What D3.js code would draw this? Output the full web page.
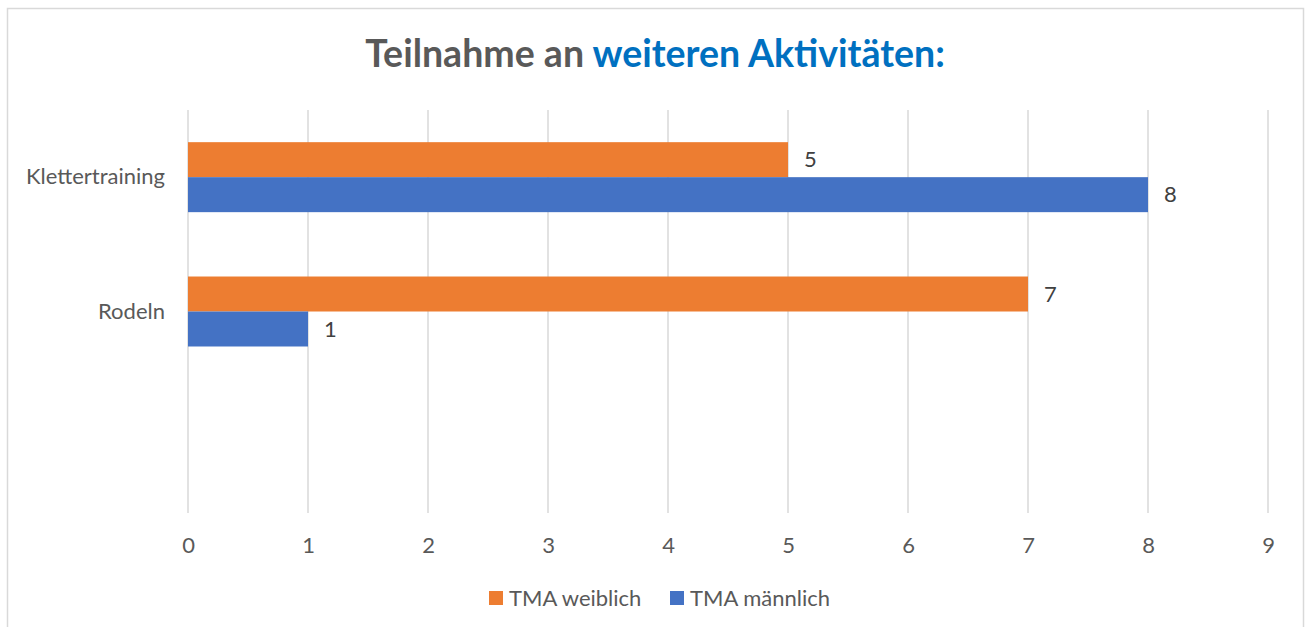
<!DOCTYPE html>
<html>
<head>
<meta charset="utf-8">
<script src="https://cdn.jsdelivr.net/npm/d3@7"></script>
<style>
  html, body { margin: 0; padding: 0; background: #fff; }
  svg { display: block; font-family: Lato, "Open Sans", sans-serif; }
</style>
</head>
<body>
<svg id="chart"></svg>
<script>
// data
const categories = ["Klettertraining", "Rodeln", ""];
const seriesNames = ["TMA weiblich", "TMA männlich"];
const weiblich = [5, 7, null];
const maennlich = [8, 1, null];
const xTicks = [0, 1, 2, 3, 4, 5, 6, 7, 8, 9];

const width = 1309, height = 627;
const colors = ["#ED7D31", "#4472C4"];
const textColor = "#595959";
const gridColor = "#d9d9d9";

const svg = d3.select("#chart")
  .attr("width", width)
  .attr("height", height);

// chart frame
svg.append("rect")
  .attr("x", 7.5).attr("y", 8.5)
  .attr("width", 1296).attr("height", 640)
  .attr("fill", "#fff")
  .attr("stroke", gridColor)
  .attr("stroke-width", 1.5);

// title
const title = svg.append("text")
  .attr("x", 655)
  .attr("y", 67)
  .attr("text-anchor", "middle")
  .attr("font-weight", "bold")
  .attr("font-size", 34);
title.append("tspan").attr("fill", textColor).text("Teilnahme an ");
title.append("tspan").attr("fill", "#0070C0").text("weiteren Aktivitäten:");
// fit the title to its width in the picture
const tw = title.node().getComputedTextLength();
title.attr("font-size", 34 * 580 / tw);

const plot = { left: 188, right: 1268, top: 110, bottom: 513 };

const x = d3.scaleLinear()
  .domain([0, 9])
  .range([plot.left, plot.right]);

const y = d3.scaleBand()
  .domain(categories)
  .range([plot.top, plot.bottom])
  .paddingInner(0.479)
  .paddingOuter(0.479 / 2);

const ySub = d3.scaleBand()
  .domain(seriesNames)
  .range([0, y.bandwidth()]);

// gridlines
svg.append("g")
  .selectAll("line")
  .data(xTicks)
  .join("line")
  .attr("x1", d => x(d)).attr("x2", d => x(d))
  .attr("y1", plot.top).attr("y2", plot.bottom)
  .attr("stroke", gridColor)
  .attr("stroke-width", 1.5);

// x axis tick labels
const xAxis = svg.append("g")
  .attr("transform", `translate(0,${plot.bottom})`)
  .call(d3.axisBottom(x).tickValues(xTicks).tickSize(0).tickPadding(24).tickFormat(d3.format("d")));
xAxis.select(".domain").remove();
xAxis.selectAll("text")
  .attr("fill", textColor)
  .attr("font-size", 22)
  .attr("font-family", "Lato, sans-serif");

// category labels
const yAxis = svg.append("g")
  .attr("transform", `translate(165,0)`)
  .call(d3.axisLeft(y).tickSize(0).tickPadding(0));
yAxis.select(".domain").remove();
yAxis.selectAll("text")
  .attr("fill", textColor)
  .attr("font-size", 22)
  .attr("font-family", "Lato, sans-serif");

// bars
const series = [weiblich, maennlich];
series.forEach((vals, si) => {
  const rows = categories.map((c, i) => ({ cat: c, value: vals[i] }))
    .filter(d => d.value != null);
  const g = svg.append("g");
  g.selectAll("rect")
    .data(rows)
    .join("rect")
    .attr("x", x(0))
    .attr("y", d => y(d.cat) + ySub(seriesNames[si]))
    .attr("width", d => x(d.value) - x(0))
    .attr("height", ySub.bandwidth())
    .attr("fill", colors[si]);
  g.selectAll("text")
    .data(rows)
    .join("text")
    .attr("x", d => x(d.value) + 16)
    .attr("y", d => y(d.cat) + ySub(seriesNames[si]) + ySub.bandwidth() / 2)
    .attr("dy", "0.35em")
    .attr("fill", "#404040")
    .attr("font-size", 22)
    .text(d => d.value);
});

// legend
const legendItems = [{ name: seriesNames[0], x: 489 }, { name: seriesNames[1], x: 670 }];
const legend = svg.append("g");
legendItems.forEach((item, i) => {
  legend.append("rect")
    .attr("x", item.x).attr("y", 591)
    .attr("width", 14).attr("height", 14)
    .attr("fill", colors[i]);
  legend.append("text")
    .attr("x", item.x + 20).attr("y", 598)
    .attr("dy", "0.35em")
    .attr("fill", textColor)
    .attr("font-size", 22)
    .text(item.name);
});
</script>
</body>
</html>
